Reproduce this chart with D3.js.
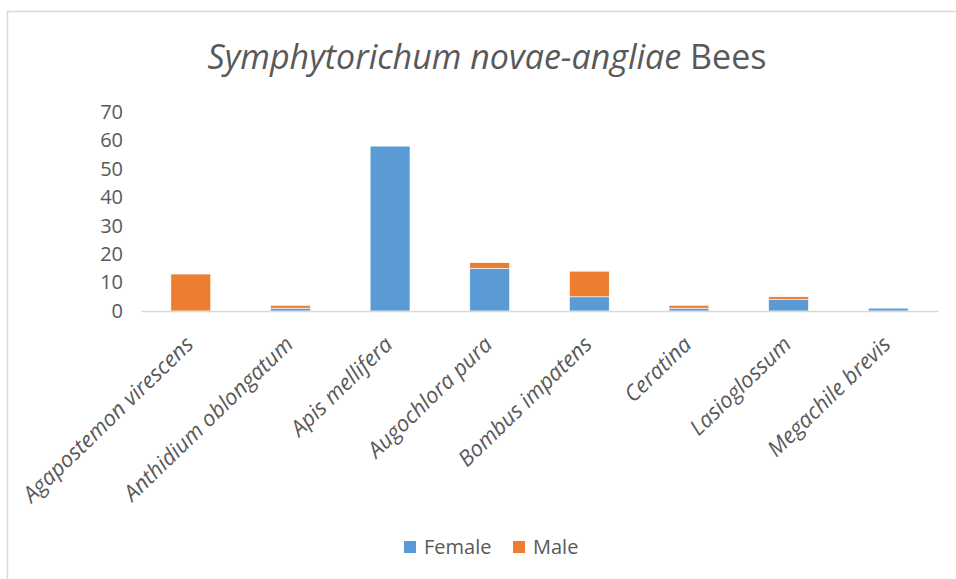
<!DOCTYPE html>
<html>
<head>
<meta charset="utf-8">
<script src="https://cdn.jsdelivr.net/npm/d3@7"></script>
<style>
  body { margin: 0; background: #fff; }
  svg { display: block; }
  text { fill: #595959; }
</style>
</head>
<body>
<svg id="chart"></svg>
<script>
const width = 956;
const height = 579;
const margin = {top: 112, right: 18, bottom: 268, left: 141};

// data
const species = ["Agapostemon virescens", "Anthidium oblongatum", "Apis mellifera", "Augochlora pura",
  "Bombus impatens", "Ceratina", "Lasioglossum", "Megachile brevis"];
const female = [0, 1, 58, 15, 5, 1, 4, 1];
const male = [13, 1, 0, 2, 9, 1, 1, 0];
const seriesNames = ["Female", "Male"];
const yTicks = [0, 10, 20, 30, 40, 50, 60, 70];
const colors = ["#5b9bd5", "#ed7d31"];

const table = species.map((s, i) => ({name: s, Female: female[i], Male: male[i]}));
const stacked = d3.stack().keys(seriesNames)(table);

const svg = d3.select("#chart")
    .attr("width", width)
    .attr("height", height)
    .attr("viewBox", [0, 0, width, height]);

// chart frame
svg.append("rect")
    .attr("x", 7.5).attr("y", 11.5)
    .attr("width", 1000).attr("height", 700)
    .attr("fill", "none")
    .attr("stroke", "#d9d9d9")
    .attr("stroke-width", 1.5);

var x = d3.scaleBand()
    .domain(species)
    .range([margin.left, width - margin.right])
    .paddingInner(0.6)
    .paddingOuter(0.3);

var y = d3.scaleLinear()
    .domain([0, 70])
    .range([height - margin.bottom, margin.top]);

// title
const title = svg.append("text")
    .attr("x", 487)
    .attr("y", 69)
    .attr("text-anchor", "middle")
    .style("font-family", "'Open Sans', sans-serif")
    .style("font-size", "34px");
title.append("tspan").attr("font-style", "italic").text("Symphytorichum novae-angliae");
title.append("tspan").text(" Bees");

// y axis (labels only)
var yAxis = g => g
    .attr("transform", `translate(${margin.left},0)`)
    .call(d3.axisLeft(y).tickValues(yTicks).tickSize(0).tickPadding(18))
    .call(g => g.select(".domain").remove())
    .call(g => g.selectAll("text")
        .style("font-family", "'Open Sans', sans-serif")
        .style("font-size", "20px")
        .attr("fill", "#595959"));
svg.append("g").call(yAxis);

// bars
svg.append("g")
  .selectAll("g")
  .data(stacked)
  .join("g")
    .attr("fill", (d, i) => colors[i])
  .selectAll("rect")
  .data(d => d)
  .join("rect")
    .attr("x", d => x(d.data.name))
    .attr("y", d => y(d[1]))
    .attr("width", x.bandwidth())
    .attr("height", d => y(d[0]) - y(d[1]))
    .attr("stroke", "#fff")
    .attr("stroke-width", 0.6);

// x axis line
var xAxis = g => g
    .attr("transform", `translate(0,${y(0)})`)
    .call(d3.axisBottom(x).tickSize(0).tickFormat(""))
    .call(g => g.select(".domain")
        .attr("stroke", "#d9d9d9")
        .attr("stroke-width", 1.5));
svg.append("g").call(xAxis);

// rotated category labels
svg.append("g")
  .selectAll("text")
  .data(species)
  .join("text")
    .attr("transform", d => `translate(${x(d) + x.bandwidth() / 2 + 4},${y(0) + 35}) rotate(-44)`)
    .attr("text-anchor", "end")
    .style("font-family", "'Open Sans', sans-serif")
    .style("font-style", "italic")
    .style("font-size", "22px")
    .text(d => d);

// legend
const legend = svg.append("g")
  .selectAll("g")
  .data(seriesNames)
  .join("g")
    .attr("transform", (d, i) => `translate(${404 + i * 109},541)`);
legend.append("rect")
    .attr("width", 12).attr("height", 12)
    .attr("fill", (d, i) => colors[i]);
legend.append("text")
    .attr("x", 20).attr("y", 6)
    .attr("dy", "0.35em")
    .style("font-family", "'Open Sans', sans-serif")
    .style("font-size", "20px")
    .text(d => d);
</script>
</body>
</html>
